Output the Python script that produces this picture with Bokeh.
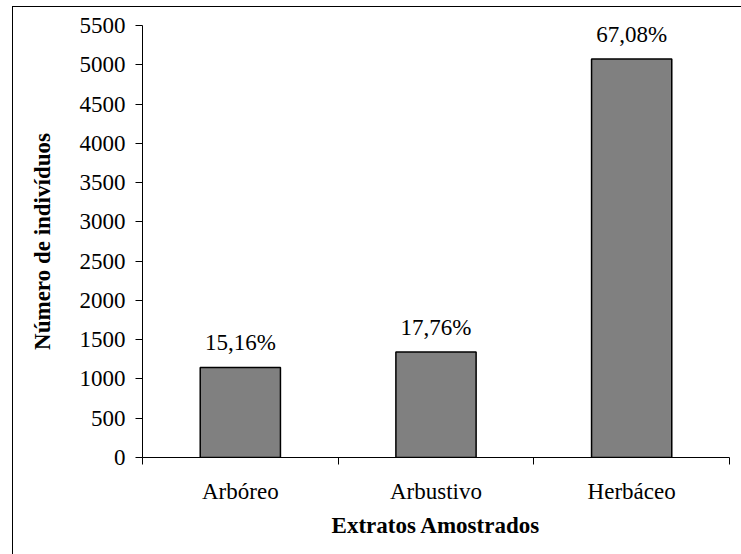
from bokeh.plotting import figure
from bokeh.models import ColumnDataSource, FixedTicker, Range1d, LabelSet
from bokeh.embed import file_html
from bokeh.resources import INLINE

categories = ["Arbóreo", "Arbustivo", "Herbáceo"]
counts = [1147, 1343, 5075]
percent_labels = ["15,16%", "17,76%", "67,08%"]
y_ticks = [0, 500, 1000, 1500, 2000, 2500, 3000, 3500, 4000, 4500, 5000, 5500]

xpos = [i + 0.5 for i in range(len(categories))]
bounds = [float(i) for i in range(len(categories) + 1)]
src = ColumnDataSource(dict(x=xpos, top=counts, lab=percent_labels))

FONT = "Liberation Serif"
FS = "23px"

p = figure(width=729, height=548,
           x_range=Range1d(0, len(categories)), y_range=Range1d(0, 5500),
           output_backend="svg", toolbar_location=None,
           min_border_left=129, min_border_top=18,
           min_border_right=13, min_border_bottom=98,
           margin=(6, 0, 0, 12),
           styles={"border-left": "1px solid black", "border-top": "1px solid black"})

p.vbar(x="x", top="top", width=0.41, source=src,
       fill_color="#808080", line_color="black", line_width=1.5)

labels = LabelSet(x="x", y="top", text="lab", source=src,
                  text_align="center", text_baseline="bottom", y_offset=12,
                  text_font=FONT, text_font_size=FS, text_color="black")
p.add_layout(labels)

p.xgrid.visible = False
p.ygrid.visible = False
p.outline_line_color = None
p.background_fill_color = "white"
p.border_fill_color = "white"

# x axis
xa = p.xaxis[0]
xa.ticker = FixedTicker(ticks=xpos, minor_ticks=bounds)
xa.major_label_overrides = {x: c for x, c in zip(xpos, categories)}
xa.major_tick_out = 0
xa.major_tick_in = 0
xa.minor_tick_out = 7
xa.minor_tick_in = 0
xa.minor_tick_line_color = "black"
xa.axis_line_color = "black"
xa.major_label_standoff = 14
xa.major_label_text_font = FONT
xa.major_label_text_font_size = FS
xa.major_label_text_color = "black"
xa.axis_label = "Extratos Amostrados"
xa.axis_label_text_font = FONT
xa.axis_label_text_font_size = FS
xa.axis_label_text_font_style = "bold"
xa.axis_label_text_color = "black"
xa.axis_label_standoff = 6

# y axis
ya = p.yaxis[0]
ya.ticker = FixedTicker(ticks=y_ticks)
ya.major_tick_out = 7
ya.major_tick_in = 0
ya.minor_tick_out = 0
ya.minor_tick_in = 0
ya.axis_line_color = "black"
ya.major_tick_line_color = "black"
ya.major_label_standoff = 10
ya.major_label_text_font = FONT
ya.major_label_text_font_size = FS
ya.major_label_text_color = "black"
ya.axis_label = "Número de indivíduos"
ya.axis_label_text_font = FONT
ya.axis_label_text_font_size = FS
ya.axis_label_text_font_style = "bold"
ya.axis_label_text_color = "black"
ya.axis_label_standoff = 22

open("out.html", "w").write(file_html(p, INLINE))
